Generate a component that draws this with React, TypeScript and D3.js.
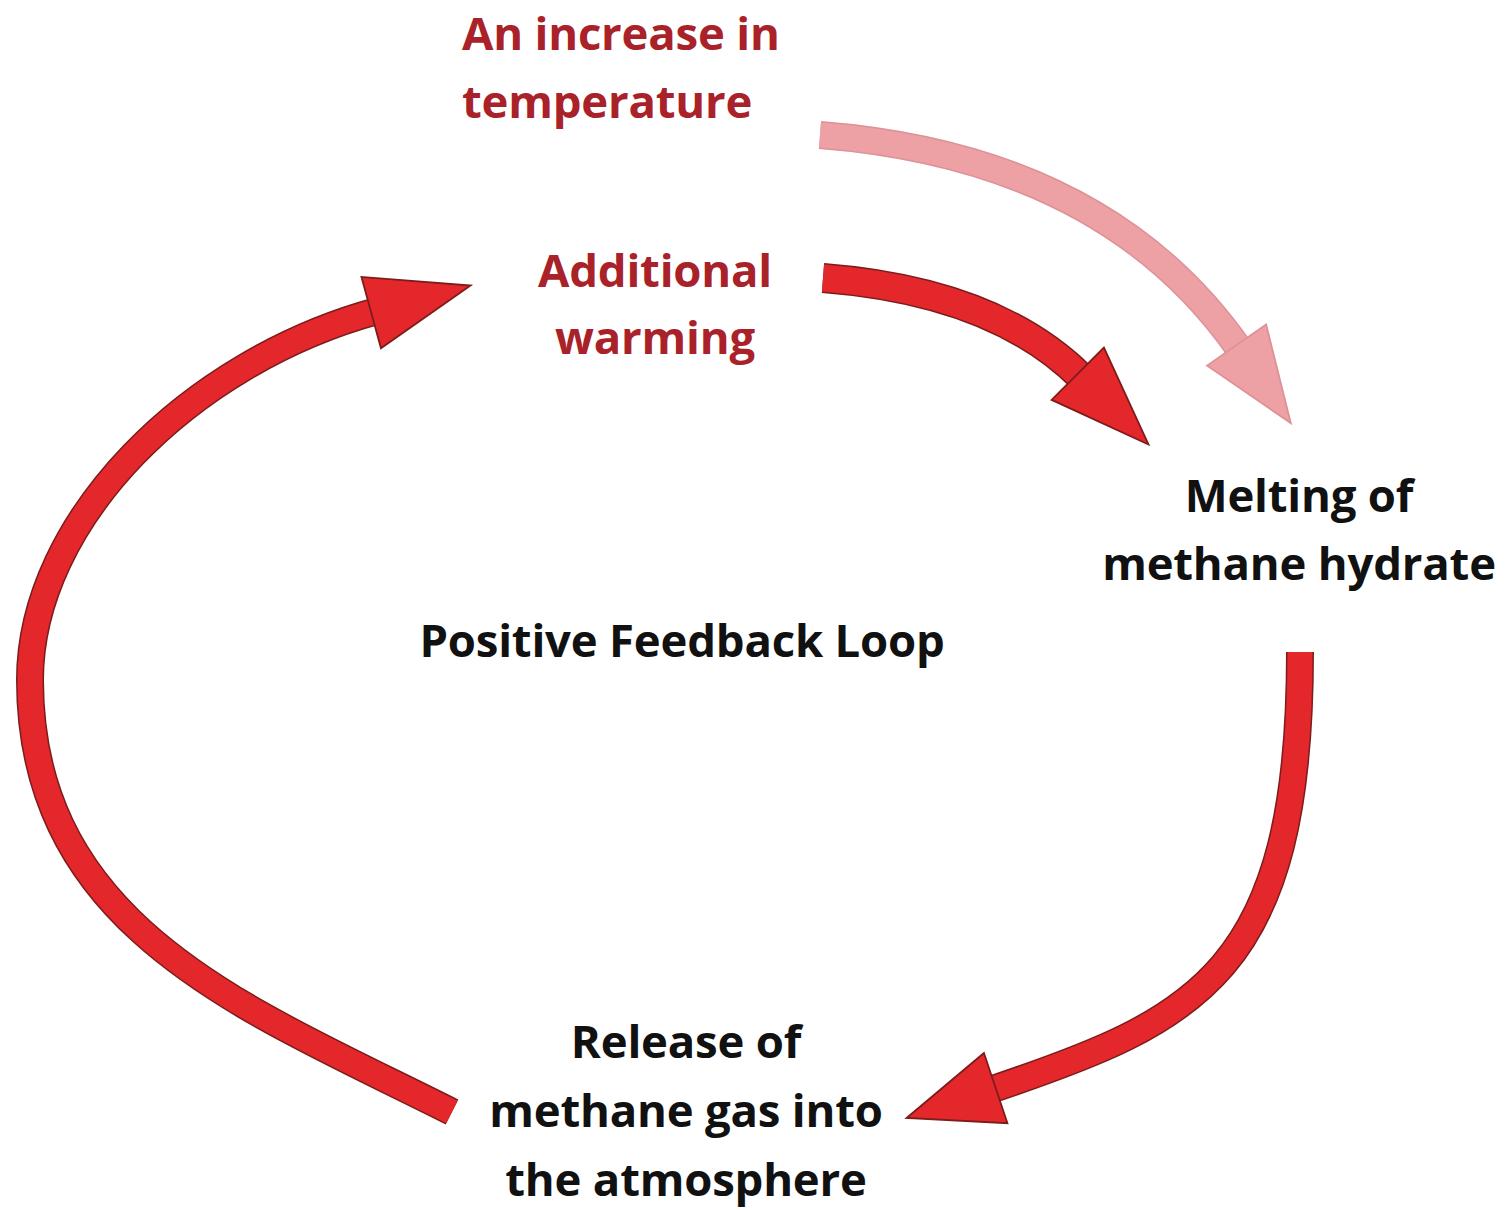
import { useRef, useEffect } from 'react';
import * as d3 from 'd3';

// Text of each node in the loop
const triggerLines = ['An increase in', 'temperature'];
const warmingLines = ['Additional', 'warming'];
const meltingLines = ['Melting of', 'methane hydrate'];
const releaseLines = ['Release of', 'methane gas into', 'the atmosphere'];
const centerTitle = 'Positive Feedback Loop';

type Pt = [number, number];

// Curved arrows as cubic segments [p0, p1, p2, p3]
const triggerArrow: Pt[][] = [[[820, 135], [1011, 150], [1151, 222], [1240, 350]]];
const warmingArrow: Pt[][] = [[[823, 278], [939, 287], [1025, 321], [1082, 378]]];
const meltingArrow: Pt[][] = [[[1300, 652], [1300, 972], [1199, 1020], [990, 1090]]];
const releaseArrow: Pt[][] = [
  [[452, 1112], [250, 1010], [30, 930], [30, 680]],
  [[30, 680], [30, 520], [190, 362], [377, 311]],
];

const W = 1507;
const H = 1210;

export default function App() {
  const svgRef = useRef<SVGSVGElement>(null);

  useEffect(() => {
    document.body.style.margin = '0';
    if (!svgRef.current) return;
    const svg = d3.select(svgRef.current);
    svg.selectAll('*').remove();

    svg.append('rect').attr('width', W).attr('height', H).attr('fill', '#fff');

    const drawArrow = (
      segs: Pt[][],
      shaft: number,
      headLen: number,
      headW: number,
      fill: string,
      edge: string,
    ) => {
      const p = d3.path();
      p.moveTo(segs[0][0][0], segs[0][0][1]);
      segs.forEach((s) => p.bezierCurveTo(s[1][0], s[1][1], s[2][0], s[2][1], s[3][0], s[3][1]));
      const g = svg.append('g');
      g.append('path')
        .attr('d', p.toString())
        .attr('fill', 'none')
        .attr('stroke', edge)
        .attr('stroke-width', shaft + 3);
      g.append('path')
        .attr('d', p.toString())
        .attr('fill', 'none')
        .attr('stroke', fill)
        .attr('stroke-width', shaft);

      const last = segs[segs.length - 1];
      const [ex, ey] = last[3];
      const dx = ex - last[2][0];
      const dy = ey - last[2][1];
      const len = Math.hypot(dx, dy);
      const ux = dx / len;
      const uy = dy / len;
      const nx = -uy;
      const ny = ux;
      const back = 6; // pull head back a little over the shaft end
      const bx = ex - ux * back;
      const by = ey - uy * back;
      const head: Pt[] = [
        [bx + (nx * headW) / 2, by + (ny * headW) / 2],
        [bx + ux * headLen, by + uy * headLen],
        [bx - (nx * headW) / 2, by - (ny * headW) / 2],
      ];
      g.append('path')
        .attr('d', d3.line()(head) + 'Z')
        .attr('fill', fill)
        .attr('stroke', edge)
        .attr('stroke-width', 1.8)
        .attr('stroke-linejoin', 'miter');
    };

    drawArrow(triggerArrow, 25, 95, 72, '#eda1a5', '#dc9296');
    drawArrow(warmingArrow, 27, 100, 74, '#e4272b', '#7c1c1c');
    drawArrow(meltingArrow, 25, 94, 74, '#e4272b', '#7c1c1c');
    drawArrow(releaseArrow, 25, 103, 74, '#e4272b', '#7c1c1c');

    const font = '"Open Sans", Lato, sans-serif';
    const label = (
      lines: string[],
      x: number,
      y0: number,
      gap: number,
      anchor: string,
      color: string,
    ) => {
      const t = svg
        .append('text')
        .attr('font-family', font)
        .attr('font-weight', 700)
        .attr('font-size', 45.5)
        .attr('letter-spacing', -0.2)
        .style('font-variant-ligatures', 'none')
        .attr('fill', color)
        .attr('text-anchor', anchor);
      lines.forEach((s, i) => {
        t.append('tspan').attr('x', x).attr('y', y0 + i * gap).text(s);
      });
    };

    label(triggerLines, 462, 50, 68, 'start', '#aa2229');
    label(warmingLines, 655, 287, 67, 'middle', '#aa2229');
    label(meltingLines, 1299, 512, 68, 'middle', '#111');
    label([centerTitle], 682, 657, 0, 'middle', '#111');
    label(releaseLines, 686, 1058, 69, 'middle', '#111');
  }, []);

  return (
    <svg
      ref={svgRef}
      width={W}
      height={H}
      viewBox={`0 0 ${W} ${H}`}
      style={{ display: 'block' }}
      aria-label="Positive feedback loop diagram"
    ></svg>
  );
}
